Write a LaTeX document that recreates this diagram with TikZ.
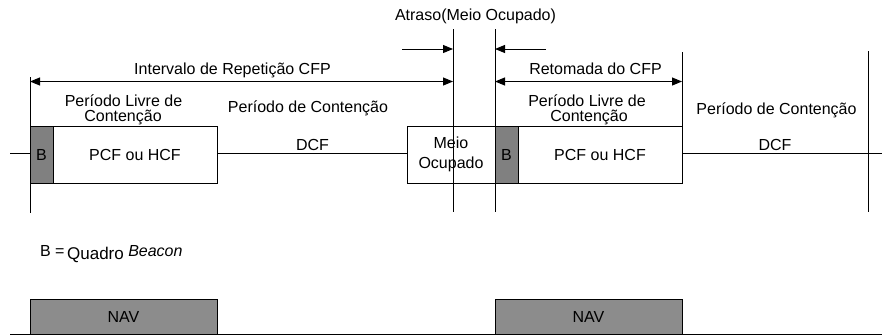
\documentclass[tikz,border=0pt]{standalone}
\usepackage{fontspec}
\setmainfont{Liberation Sans}
\usetikzlibrary{arrows.meta}
\begin{document}
\begin{tikzpicture}[x=1pt,y=-1pt, line width=1pt,
  every node/.style={font=\fontsize{16}{18}\selectfont, inner sep=0pt, outer sep=0pt},
  lbl/.style={anchor=base},
  box/.style={draw, anchor=north west, minimum height=57pt},
  bbox/.style={box, fill=black!50, minimum width=23pt},
  pbox/.style={box},
  navbox/.style={draw, anchor=north west, fill=black!45, minimum width=187pt, minimum height=35pt},
  arr/.style={-{Triangle[length=10pt,width=8pt]}},
  darr/.style={{Triangle[length=10pt,width=8pt]}-{Triangle[length=10pt,width=8pt]}}]
\useasboundingbox (0,0) rectangle (882,335);

% boxes
\node[bbox] (b1) at (30,126) {B};
\node[pbox, minimum width=164pt] (p1) at (53,126) {PCF ou HCF};
\node[box, minimum width=88pt, align=center] (mo) at (407,126) {Meio\\[2pt]Ocupado};
\node[bbox] (b2) at (495,126) {B};
\node[pbox, minimum width=164pt] (p2) at (518,126) {PCF ou HCF};

% axis
\coordinate (axL) at (10,153);
\coordinate (axR) at (882,153);
\draw (axL) -- (b1.west |- axL);
\draw (p1.east |- axL) -- (mo.west |- axL);
\draw (p2.east |- axL) -- (axR);

% vertical markers
\coordinate (v1t) at (30,77);  \coordinate (v1b) at (30,213);
\coordinate (v2t) at (453,29); \coordinate (v2b) at (453,212);
\coordinate (v3t) at (495,29); \coordinate (v3b) at (495,212);
\coordinate (v4t) at (682,52);
\coordinate (v5t) at (868,51); \coordinate (v5b) at (868,212);
\draw (v1t) -- (v1b);
\draw (v2t) -- (v2b);
\draw (v3t) -- (v3b);
\draw (v4t) -- (p2.north east);
\draw (v5t) -- (v5b);

% arrows
\coordinate (i1) at (30,81.5);  \coordinate (i2) at (453,81.5);
\coordinate (r1) at (495,81.5); \coordinate (r2) at (682,81.5);
\coordinate (d1) at (402,49);   \coordinate (d2) at (453,49);
\coordinate (d3) at (546,49);   \coordinate (d4) at (495,49);
\draw[darr] (i1) -- (i2);
\draw[darr] (r1) -- (r2);
\draw[arr] (d1) -- (d2);
\draw[arr] (d3) -- (d4);

% labels
\node[lbl] (tatr) at (475.5,20) {Atraso(Meio Ocupado)};
\node[lbl] (tint) at (232.5,74.5) {Intervalo de Repetição CFP};
\node[lbl] (tret) at (595.5,74.5) {Retomada do CFP};
\node[lbl] (pl1a) at (123.5,106) {Período Livre de};
\node[lbl] (pl1b) at (123,121.5) {Contenção};
\node[lbl] (pc1) at (308,112.7) {Período de Contenção};
\node[lbl] (dcf1) at (312.5,150.7) {DCF};
\node[lbl] (pl2a) at (587,106) {Período Livre de};
\node[lbl] (pl2b) at (589,121.5) {Contenção};
\node[lbl] (pc2) at (776.5,114) {Período de Contenção};
\node[lbl] (dcf2) at (775,150.7) {DCF};
\node[anchor=base west] (bq) at (40,256) {B =\,\raisebox{-3.3pt}{\fontsize{17}{18}\selectfont Quadro} \textit{Beacon}};

% NAV
\node[navbox] (nav1) at (30,299) {NAV};
\node[navbox] (nav2) at (495,299) {NAV};
\coordinate (bl) at (10,334);
\coordinate (br) at (882,334);
\draw (bl) -- (br);
\end{tikzpicture}
\end{document}
